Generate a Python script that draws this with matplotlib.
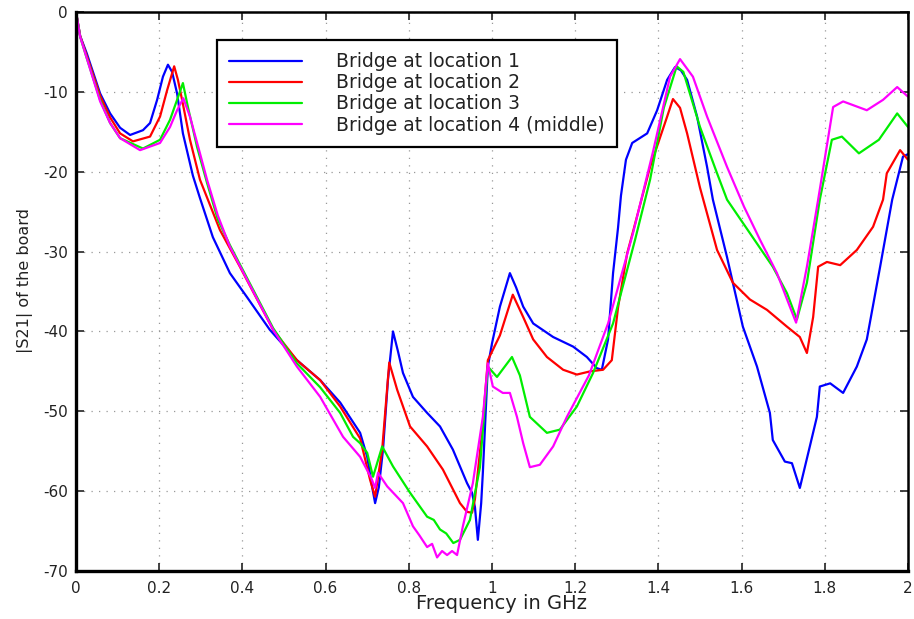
import matplotlib
matplotlib.use("Agg")
import matplotlib.pyplot as plt

plt.rcParams['font.family'] = ['DejaVu Sans']
plt.rcParams['axes.unicode_minus'] = False

# Frequency (GHz) / |S21| (dB) samples for each bridge position
freq_loc1 = [0, 0.010, 0.026, 0.058, 0.082, 0.106, 0.130, 0.161, 0.178, 0.195, 0.209, 0.221,
             0.231, 0.243, 0.257, 0.281, 0.298, 0.329, 0.370, 0.411, 0.466, 0.531, 0.587,
             0.635, 0.683, 0.700, 0.712, 0.719, 0.728, 0.738, 0.750, 0.762, 0.774, 0.786,
             0.810, 0.844, 0.875, 0.906, 0.940, 0.952, 0.959, 0.966, 0.974, 0.978, 0.990,
             1.000, 1.019, 1.043, 1.058, 1.075, 1.099, 1.147, 1.195, 1.228, 1.252, 1.264,
             1.279, 1.291, 1.303, 1.310, 1.322, 1.337, 1.373, 1.397, 1.421, 1.440, 1.454,
             1.469, 1.493, 1.517, 1.531, 1.565, 1.603, 1.637, 1.668, 1.675, 1.704, 1.721,
             1.740, 1.764, 1.781, 1.788, 1.813, 1.844, 1.877, 1.901, 1.933, 1.962, 1.988, 2.0]
s21_loc1 = [0, -3.0, -5.2, -10.2, -12.7, -14.5, -15.4, -14.8, -13.9, -11.0, -8.1, -6.6,
            -7.5, -10.2, -15.2, -20.5, -23.3, -28.2, -32.7, -35.7, -39.8, -43.6, -46.1,
            -48.9, -52.7, -55.7, -59.5, -61.5, -59.5, -54.8, -46.0, -40.0, -42.5, -45.2,
            -48.2, -50.2, -51.9, -54.8, -59.0, -60.2, -62.0, -66.1, -61.5, -57.7, -44.4,
            -41.5, -36.9, -32.7, -34.5, -36.9, -39.0, -40.7, -41.9, -43.2, -44.6, -44.8,
            -41.0, -32.7, -27.0, -23.0, -18.5, -16.4, -15.2, -12.3, -8.5, -6.9, -7.3,
            -8.5, -13.1, -19.4, -23.5, -30.7, -39.4, -44.4, -50.2, -53.6, -56.3, -56.5,
            -59.6, -54.4, -50.7, -46.9, -46.5, -47.7, -44.4, -41.0, -31.9, -23.5, -18.1, -17.8]

freq_loc2 = [0, 0.010, 0.026, 0.058, 0.082, 0.106, 0.137, 0.178, 0.202, 0.219, 0.236, 0.245,
             0.255, 0.274, 0.298, 0.346, 0.394, 0.474, 0.531, 0.587, 0.635, 0.683, 0.707,
             0.719, 0.736, 0.753, 0.772, 0.803, 0.844, 0.882, 0.923, 0.940, 0.952, 0.959,
             0.976, 0.990, 1.019, 1.050, 1.075, 1.099, 1.132, 1.171, 1.204, 1.236, 1.267,
             1.288, 1.303, 1.325, 1.339, 1.380, 1.421, 1.435, 1.452, 1.469, 1.500, 1.541,
             1.579, 1.620, 1.661, 1.709, 1.740, 1.757, 1.772, 1.784, 1.805, 1.837, 1.877,
             1.916, 1.940, 1.949, 1.981, 2.0]
s21_loc2 = [0, -3.0, -5.5, -10.5, -13.2, -15.2, -16.2, -15.6, -13.1, -9.8, -6.8, -8.5,
            -11.0, -16.0, -21.0, -27.3, -31.9, -39.8, -43.6, -46.1, -49.4, -53.4, -58.6,
            -60.7, -54.8, -43.9, -47.3, -51.9, -54.4, -57.3, -61.5, -62.6, -62.7, -61.0,
            -52.7, -43.6, -40.5, -35.4, -38.2, -41.0, -43.2, -44.8, -45.4, -45.0, -44.8,
            -43.6, -37.0, -30.2, -27.5, -19.4, -13.1, -10.9, -12.0, -15.2, -22.0, -29.8,
            -33.9, -36.0, -37.3, -39.4, -40.7, -42.7, -38.2, -31.9, -31.3, -31.7, -29.8,
            -26.9, -23.5, -20.2, -17.3, -18.5]

freq_loc3 = [0, 0.010, 0.026, 0.058, 0.082, 0.106, 0.161, 0.202, 0.226, 0.243, 0.257, 0.269,
             0.291, 0.315, 0.341, 0.370, 0.474, 0.531, 0.587, 0.635, 0.666, 0.683, 0.700,
             0.714, 0.736, 0.762, 0.803, 0.844, 0.860, 0.875, 0.890, 0.907, 0.923, 0.947,
             0.971, 0.990, 1.012, 1.048, 1.067, 1.091, 1.132, 1.163, 1.204, 1.243, 1.291,
             1.344, 1.380, 1.413, 1.444, 1.460, 1.500, 1.541, 1.565, 1.620, 1.675, 1.709,
             1.733, 1.757, 1.788, 1.817, 1.841, 1.882, 1.930, 1.974, 2.0]
s21_loc3 = [0, -3.1, -5.8, -11.0, -13.9, -15.8, -17.1, -16.0, -13.5, -11.0, -8.9, -11.9,
            -16.9, -21.4, -26.0, -29.2, -39.6, -44.0, -47.0, -50.2, -53.2, -54.0, -55.2,
            -58.2, -54.4, -56.9, -60.2, -63.2, -63.6, -64.8, -65.3, -66.5, -66.1, -63.6,
            -57.0, -44.4, -45.7, -43.2, -45.5, -50.7, -52.7, -52.3, -49.4, -45.2, -39.0,
            -28.5, -21.0, -12.0, -6.8, -7.5, -14.4, -20.2, -23.5, -27.7, -31.9, -35.2,
            -38.5, -33.9, -23.5, -16.0, -15.6, -17.7, -16.0, -12.7, -14.4]

freq_loc4 = [0, 0.010, 0.026, 0.058, 0.082, 0.106, 0.154, 0.202, 0.226, 0.243, 0.258, 0.274,
             0.298, 0.315, 0.341, 0.370, 0.474, 0.531, 0.587, 0.642, 0.683, 0.710, 0.719,
             0.726, 0.748, 0.786, 0.810, 0.825, 0.844, 0.856, 0.868, 0.880, 0.892, 0.904,
             0.916, 0.930, 0.954, 0.978, 0.990, 1.002, 1.026, 1.043, 1.060, 1.075, 1.091,
             1.115, 1.147, 1.180, 1.233, 1.279, 1.339, 1.387, 1.428, 1.452, 1.483, 1.517,
             1.565, 1.606, 1.644, 1.685, 1.716, 1.731, 1.757, 1.784, 1.820, 1.844, 1.901,
             1.940, 1.974, 2.0]
s21_loc4 = [0, -3.1, -5.8, -11.2, -13.9, -15.8, -17.3, -16.4, -14.4, -12.3, -10.8, -13.1,
            -17.7, -21.0, -25.5, -29.4, -39.8, -44.4, -48.2, -53.2, -55.7, -58.4, -59.6,
            -57.7, -59.4, -61.5, -64.4, -65.5, -67.0, -66.6, -68.3, -67.5, -68.0, -67.5,
            -68.0, -64.4, -59.0, -50.7, -44.0, -46.9, -47.7, -47.7, -50.7, -54.0, -57.0,
            -56.7, -54.4, -50.7, -45.5, -39.0, -27.7, -17.5, -8.1, -5.9, -8.1, -13.1,
            -19.4, -24.4, -28.5, -32.7, -36.9, -38.9, -31.9, -23.5, -11.9, -11.2, -12.3,
            -11.0, -9.4, -10.6]

series_labels = ['Bridge at location 1', 'Bridge at location 2',
                 'Bridge at location 3', 'Bridge at location 4 (middle)']
series_colors = ['#0000ff', '#ff0000', '#00ee00', '#ff00ff']

x_ticks = [0, 0.2, 0.4, 0.6, 0.8, 1, 1.2, 1.4, 1.6, 1.8, 2]
x_tick_labels = ['0', '0.2', '0.4', '0.6', '0.8', '1', '1.2', '1.4', '1.6', '1.8', '2']
y_ticks = [-70, -60, -50, -40, -30, -20, -10, 0]

fig = plt.figure(figsize=(9.14, 6.19), dpi=100)
ax = fig.add_axes([76 / 914, 1 - 571 / 619, 832 / 914, 559 / 619])

curves = [(freq_loc1, s21_loc1), (freq_loc2, s21_loc2),
          (freq_loc3, s21_loc3), (freq_loc4, s21_loc4)]
for (fx, fy), lab, col in zip(curves, series_labels, series_colors):
    ax.plot(fx, fy, color=col, lw=1.6, label=lab,
            solid_joinstyle='round', solid_capstyle='round')

ax.set_xlim(0, 2)
ax.set_ylim(-70, 0)
ax.set_xticks(x_ticks)
ax.set_xticklabels(x_tick_labels)
ax.set_yticks(y_ticks)

ax.grid(True, color='#999999', linestyle=(0, (1, 5)), linewidth=0.9)
ax.tick_params(direction='in', length=6, width=1.2, top=True, right=True,
               labelsize=11, colors='#222222', pad=6)
ax.tick_params(axis='x', pad=7)
for name, sp in ax.spines.items():
    sp.set_color('black')
    sp.set_linewidth(2.4 if name in ('left', 'bottom') else 1.8)

ax.set_xlabel('Frequency in GHz', fontsize=14, color='#222222')
ax.xaxis.set_label_coords((502 - 76) / 832, -0.042)
ax.set_ylabel('|S21| of the board', fontsize=11.5, color='#222222')
ax.yaxis.set_label_coords(-0.052, 0.52)

leg = ax.legend(loc='upper left', bbox_to_anchor=(0.1695, 0.950), fontsize=13.5,
                frameon=True, fancybox=False, edgecolor='black', framealpha=1,
                handlelength=3.85, handletextpad=1.85, labelspacing=0.11,
                borderpad=0.66, borderaxespad=0)
leg.get_frame().set_linewidth(1.6)
for t in leg.get_texts():
    t.set_color('#222222')

fig.savefig('out.png', dpi=100)
